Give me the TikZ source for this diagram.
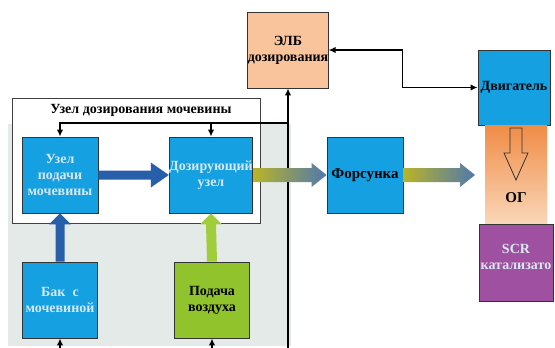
\documentclass[tikz,border=0pt]{standalone}
\usepackage{fontspec}
\setmainfont{Liberation Serif}
\usetikzlibrary{arrows.meta,calc}
\definecolor{boxblue}{RGB}{20,160,225}
\definecolor{boxgreen}{RGB}{145,195,45}
\definecolor{boxpeach}{RGB}{249,195,155}
\definecolor{boxpurple}{RGB}{160,80,160}
\definecolor{panelgray}{RGB}{228,234,232}
\definecolor{arrblue}{RGB}{40,95,170}
\definecolor{arrgreen}{RGB}{160,205,60}
\definecolor{arrolive}{RGB}{185,180,40}
\definecolor{arrsteel}{RGB}{80,120,175}
\definecolor{bandtop}{RGB}{240,140,70}
\definecolor{bandmid}{RGB}{238,120,45}
\definecolor{bandbot}{RGB}{250,215,185}
\definecolor{lighttext}{RGB}{215,232,240}
\begin{document}
\begin{tikzpicture}[x=1pt,y=-1pt,
  bx/.style={draw=black!80, line width=0.8pt, inner sep=0pt, align=center,
    minimum width=76pt, minimum height=76pt,
    font=\bfseries\fontsize{14}{16}\selectfont},
  bluebox/.style={bx, fill=boxblue},
  conn/.style={draw=black, line width=1.6pt},
  tip/.style={-{Latex[length=7pt,width=6.5pt]}}
]
\useasboundingbox (0,0) rectangle (555,348);
\fill[white] (0,0) rectangle (555,348);
% panel
\fill[panelgray] (8,124) rectangle (291,346);
% group box
\node[draw=black!75, line width=0.8pt, fill=white, minimum width=248pt, minimum height=125pt, inner sep=0pt] (grp) at (136,160.5) {};
\node[font=\bfseries\fontsize{14}{16}\selectfont] (grpt) at (141,110) {Узел дозирования мочевины};

% nodes
\node[bluebox, text=lighttext] (feed) at (60,175) {Узел\\подачи\\мочевины};
\node[bluebox, text=lighttext, minimum width=78pt] (doz) at (211,175) {Дозирующий\\узел};
\node[bluebox, text=lighttext, minimum width=75pt] (tank) at (60,300) {Бак\enspace с\\мочевиной};
\node[bx, fill=boxgreen, minimum width=75pt] (air) at (212,300) {Подача\\воздуха};
\node[bx, fill=boxpeach, minimum width=78pt] (elb) at (288,50) {ЭЛБ\\дозирования};
\node[bluebox, font=\bfseries\fontsize{15}{17}\selectfont] (fors) at (365,175) {Форсунка};
\node[bluebox, minimum width=72pt, minimum height=75pt] (eng) at (514,87.5) {Двигатель};

% exhaust band
\shade[top color=bandtop, middle color=bandmid, bottom color=bandbot] (485,125) rectangle (547,224);
\draw[black!80, line width=0.8pt] (510,128) -- (522,128) -- (522,153) -- (528,153) -- (516,180) -- (504,153) -- (510,153) -- cycle;
\node[font=\bfseries\fontsize{15}{17}\selectfont] (og) at (516,198) {ОГ};
\node[bx, fill=boxpurple, minimum width=74pt, minimum height=77pt] (scr) at (516,262.5) {};
\node[text=lighttext, font=\bfseries\fontsize{14}{16}\selectfont, align=center, inner sep=0pt] (scrt) at (516,257) {SCR\\катализато};

% fat arrows (solid)
\fill[arrblue] ($(feed.east)+(0,-4.5)$) -- ($(doz.west)+(-18,-4.5)$) -- ($(doz.west)+(-18,-12.5)$) -- (doz.west) -- ($(doz.west)+(-18,12.5)$) -- ($(doz.west)+(-18,4.5)$) -- ($(feed.east)+(0,4.5)$) -- cycle;
\fill[arrblue] ($(tank.north)+(-4.5,0)$) -- ($(feed.south)+(-4.5,11)$) -- ($(feed.south)+(-11,11)$) -- (feed.south) -- ($(feed.south)+(11,11)$) -- ($(feed.south)+(4.5,11)$) -- ($(tank.north)+(4.5,0)$) -- cycle;
\fill[arrgreen] ($(air.north)+(-5,0)$) -- ($(doz.south)+(-5,11)$) -- ($(doz.south)+(-11,11)$) -- (doz.south) -- ($(doz.south)+(11,11)$) -- ($(doz.south)+(5,11)$) -- ($(air.north)+(5,0)$) -- cycle;

% connectors
\coordinate (jr) at (288,123);
\coordinate (b0) at (288,348);
\coordinate (b1) at (60,348);
\coordinate (b2) at (212,348);
\draw[conn, tip] (b0) -- (elb.south);
\draw[conn, tip] (jr) -- (jr -| feed.north) -- (feed.north);
\draw[conn, tip] (jr -| doz.north) -- (doz.north);
\draw[conn, tip] (b1) -- (tank.south);
\draw[conn, tip] (b2) -- (air.south);
\draw[conn, {Latex[length=7pt,width=6.5pt]}-{Latex[length=7pt,width=6.5pt]}] (elb.east) -- ++(74,0) |- (eng.west);

% gradient arrows
\shade[left color=arrolive, right color=arrsteel] ($(doz.east)+(0,-7)$) -- ($(fors.west)+(-15,-7)$) -- ($(fors.west)+(-15,-12)$) -- (fors.west) -- ($(fors.west)+(-15,12)$) -- ($(fors.west)+(-15,7)$) -- ($(doz.east)+(0,7)$) -- cycle;
\coordinate (og_in) at (475,175);
\shade[left color=arrolive, right color=arrsteel] ($(fors.east)+(0,-7)$) -- ($(og_in)+(-15,-7)$) -- ($(og_in)+(-15,-12)$) -- (og_in) -- ($(og_in)+(-15,12)$) -- ($(og_in)+(-15,7)$) -- ($(fors.east)+(0,7)$) -- cycle;
\end{tikzpicture}
\end{document}
